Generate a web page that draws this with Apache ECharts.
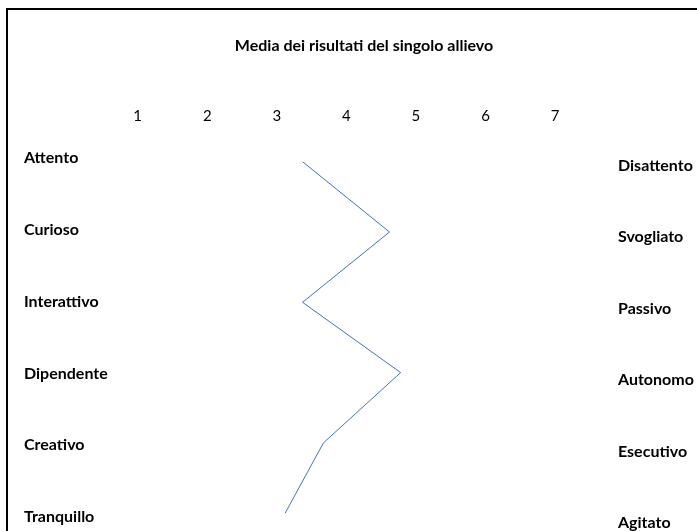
<!DOCTYPE html>
<html>
<head>
<meta charset="utf-8">
<script src="https://cdn.jsdelivr.net/npm/echarts@6/dist/echarts.min.js"></script>
<style>
  html, body { margin: 0; padding: 0; background: #fff; }
  #wrap { position: relative; width: 697px; height: 531px; overflow: hidden; }
  #chart { position: absolute; left: 0; top: 0; width: 697px; height: 531px; }
  #frame { position: absolute; left: 6px; top: 8px; width: 720px; height: 560px;
           border-left: 2px solid #000; border-top: 2px solid #000; pointer-events: none; }
</style>
</head>
<body>
<div id="wrap">
  <div id="chart"></div>
  <div id="frame"></div>
</div>
<script>
// Semantic differential profile: average score per trait pair on a 1–7 scale
const leftTraits = ['Attento', 'Curioso', 'Interattivo', 'Dipendente', 'Creativo', 'Tranquillo'];
const rightTraits = ['Disattento', 'Svogliato', 'Passivo', 'Autonomo', 'Esecutivo', 'Agitato'];
const scores = [3.37, 4.62, 3.37, 4.78, 3.67, 3.12];
const scaleTicks = [1, 2, 3, 4, 5, 6, 7];

const FONT = 'Lato';
const chart = echarts.init(document.getElementById('chart'), null, { renderer: 'canvas' });

chart.setOption({
  animation: false,
  backgroundColor: '#ffffff',
  title: {
    text: 'Media dei risultati del singolo allievo',
    left: 359,
    textAlign: 'center',
    top: 33,
    textStyle: { fontFamily: FONT, fontSize: 16, fontWeight: 'bold', color: '#000' }
  },
  grid: [
    { left: 68.15, right: 72.4, top: 161.7, height: 351.5 },   // profile line
    { left: 100, width: 400, top: 158, height: 359 },          // left-hand traits
    { left: 100, width: 500, top: 165.7, height: 357.3 }        // right-hand traits
  ],
  xAxis: [
    {
      gridIndex: 0, type: 'value', position: 'top', min: 0, max: 8, interval: 1,
      axisLine: { show: false }, axisTick: { show: false }, splitLine: { show: false },
      axisLabel: {
        margin: 38, fontFamily: FONT, fontSize: 15, color: '#000',
        formatter: v => (scaleTicks.indexOf(v) >= 0 ? String(v) : '')
      }
    },
    { gridIndex: 1, type: 'value', show: false },
    { gridIndex: 2, type: 'value', show: false }
  ],
  yAxis: [
    {
      gridIndex: 0, type: 'category', data: leftTraits, inverse: true, boundaryGap: false,
      axisLine: { show: false }, axisTick: { show: false }, axisLabel: { show: false },
      splitLine: { show: false }
    },
    {
      gridIndex: 1, type: 'category', data: leftTraits, inverse: true, boundaryGap: false,
      position: 'left',
      axisLine: { show: false }, axisTick: { show: false }, splitLine: { show: false },
      axisLabel: { align: 'left', margin: 76, fontFamily: FONT, fontSize: 16, fontWeight: 'bold', color: '#000' }
    },
    {
      gridIndex: 2, type: 'category', data: rightTraits, inverse: true, boundaryGap: false,
      position: 'right',
      axisLine: { show: false }, axisTick: { show: false }, splitLine: { show: false },
      axisLabel: { align: 'left', margin: 18, fontFamily: FONT, fontSize: 16, fontWeight: 'bold', color: '#000' }
    }
  ],
  series: [
    {
      type: 'line', xAxisIndex: 0, yAxisIndex: 0, data: scores,
      symbol: 'none', lineStyle: { color: '#4472C4', width: 1 }
    }
  ]
});
</script>
</body>
</html>
